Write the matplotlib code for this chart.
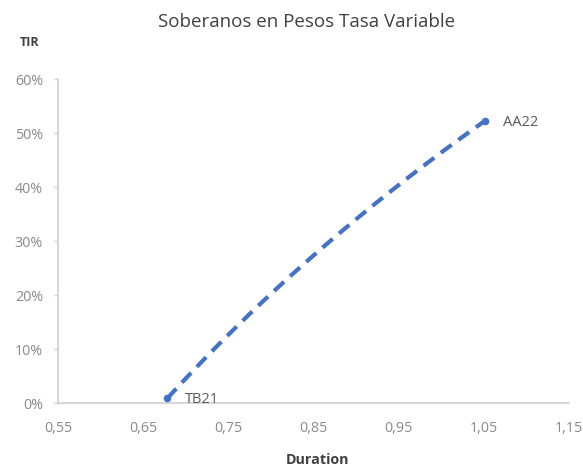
import numpy as np
import matplotlib
matplotlib.use("Agg")
import matplotlib.pyplot as plt
from matplotlib.ticker import FuncFormatter

plt.rcParams['font.family'] = ['Open Sans', 'DejaVu Sans']

bonds = ["TB21", "AA22"]
duration = [0.678, 1.051]
tir = [0.009, 0.523]

x_ticks = [0.55, 0.65, 0.75, 0.85, 0.95, 1.05, 1.15]
y_ticks = [0.0, 0.1, 0.2, 0.3, 0.4, 0.5, 0.6]

blue = "#4472C4"
axis_col = "#d0d0d0"
tick_col = "#8a8a8a"
text_col = "#404040"

fig = plt.figure(figsize=(5.83, 4.67), dpi=100)
ax = fig.add_axes([0.1, 0.1364, 0.876, 0.6936])

# logarithmic trendline fitted to the data
xd = np.array(duration)
yd = np.array(tir)
coef = np.polyfit(np.log(xd), yd, 1)
xs = np.linspace(xd.min(), xd.max(), 200)
ax.plot(xs, coef[0] * np.log(xs) + coef[1], color=blue, lw=3,
        dashes=(3.2, 2.0), dash_capstyle='butt', zorder=2)

ax.scatter(duration, tir, s=30, color=blue, zorder=3, linewidths=0)
for name, xv, yv in zip(bonds, duration, tir):
    ax.annotate(name, (xv, yv), xytext=(13, -1), textcoords='offset points',
                ha='left', va='center', fontsize=10.5, color='#595959')

ax.set_xlim(0.55, 1.15)
ax.set_ylim(0, 0.6)
ax.set_xticks(x_ticks)
ax.set_yticks(y_ticks)
ax.xaxis.set_major_formatter(FuncFormatter(lambda v, p: f"{v:.2f}".replace('.', ',')))
ax.yaxis.set_major_formatter(FuncFormatter(lambda v, p: f"{v*100:.0f}%"))

for s in ['top', 'right']:
    ax.spines[s].set_visible(False)
for s in ['left', 'bottom']:
    ax.spines[s].set_color(axis_col)
    ax.spines[s].set_linewidth(1.2)
ax.spines['bottom'].set_zorder(1)

ax.tick_params(axis='y', colors=axis_col, labelcolor=tick_col, length=3,
               width=1, labelsize=10.3, pad=8)
ax.tick_params(axis='x', length=0, labelcolor=tick_col, labelsize=10.3, pad=13)

fig.text(0.526, 0.953, "Soberanos en Pesos Tasa Variable", ha='center', va='center',
         fontsize=13.5, color=text_col)
fig.text(0.051, 0.91, "TIR", ha='center', va='center', fontsize=9,
         fontweight='bold', color=text_col)
fig.text(0.545, 0.016, "Duration", ha='center', va='center', fontsize=10.3,
         fontweight='bold', color=text_col)

fig.savefig("out.png", dpi=100)
